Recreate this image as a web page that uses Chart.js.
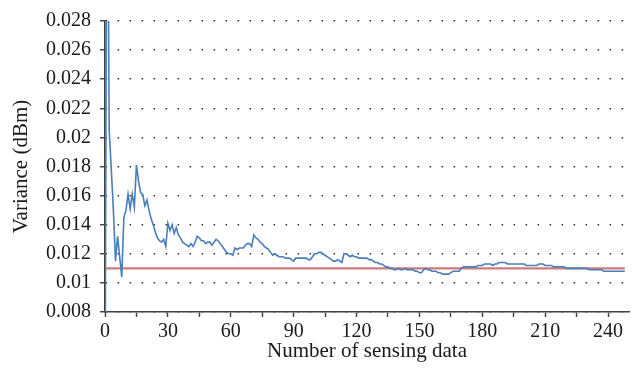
<!DOCTYPE html>
<html>
<head>
<meta charset="utf-8">
<script src="https://cdn.jsdelivr.net/npm/chart.js@4/dist/chart.umd.min.js"></script>
<style>
  html, body { margin: 0; padding: 0; background: #ffffff; }
  canvas { display: block; }
</style>
</head>
<body>
<canvas id="chart" width="641" height="377"></canvas>
<script>
// Running variance after each new sensing sample
const variance = [
  0.0, 0.045, 0.0205, 0.0178, 0.0150, 0.0115, 0.0132, 0.0118, 0.0104, 0.0145,
  0.0150, 0.0161, 0.0151, 0.0161, 0.0152, 0.0181, 0.0170, 0.0162, 0.0161, 0.0153,
  0.0157, 0.0150, 0.0144, 0.0140, 0.0135, 0.0131, 0.0129, 0.0128, 0.0130, 0.0125,
  0.0141, 0.0136, 0.0140, 0.0134, 0.0138, 0.0133, 0.0131, 0.0128, 0.0127, 0.0126,
  0.0125, 0.0127, 0.0125, 0.0128, 0.0132, 0.0131, 0.0129, 0.0129, 0.0127, 0.0128,
  0.0128, 0.0126, 0.0128, 0.0130, 0.0129, 0.0127, 0.0125, 0.0123, 0.0121, 0.0120,
  0.0120, 0.0119, 0.0124, 0.0123, 0.0124, 0.0124, 0.0124, 0.0126, 0.0127, 0.0127,
  0.0125, 0.0133, 0.0131, 0.0130, 0.0128, 0.0127, 0.0125, 0.0124, 0.0123, 0.0121,
  0.0119, 0.0120, 0.0119, 0.0118, 0.0118, 0.0118, 0.0117, 0.0117, 0.0117, 0.0116,
  0.0115, 0.0117, 0.0117, 0.0117, 0.0117, 0.0117, 0.0117, 0.0116, 0.0116, 0.0118,
  0.0120, 0.0120, 0.0121, 0.0121, 0.0120, 0.0119, 0.0118, 0.0117, 0.0116, 0.0115,
  0.0115, 0.0116, 0.0115, 0.0114, 0.0120, 0.0120, 0.0119, 0.0118, 0.0119, 0.0118,
  0.0118, 0.0117, 0.0117, 0.0117, 0.0117, 0.0117, 0.0116, 0.0116, 0.0115, 0.0114,
  0.0114, 0.0113, 0.0113, 0.0112, 0.0111, 0.0111, 0.0110, 0.0110, 0.0109, 0.0109,
  0.0110, 0.0109, 0.0109, 0.0110, 0.0109, 0.0109, 0.0109, 0.0109, 0.0108, 0.0108,
  0.0107, 0.0107, 0.0109, 0.0110, 0.0109, 0.0109, 0.0108, 0.0108, 0.0108, 0.0107,
  0.0107, 0.0106, 0.0106, 0.0106, 0.0106, 0.0107, 0.0108, 0.0108, 0.0108, 0.0108,
  0.0110, 0.0111, 0.0111, 0.0111, 0.0111, 0.0111, 0.0111, 0.0111, 0.0112, 0.0112,
  0.0112, 0.0113, 0.0113, 0.0113, 0.0113, 0.0112, 0.0113, 0.0113, 0.0114, 0.0114,
  0.0114, 0.0114, 0.0113, 0.0113, 0.0113, 0.0113, 0.0113, 0.0113, 0.0113, 0.0113,
  0.0113, 0.0112, 0.0112, 0.0112, 0.0112, 0.0112, 0.0112, 0.0113, 0.0113, 0.0113,
  0.0112, 0.0112, 0.0112, 0.0112, 0.0111, 0.0111, 0.0111, 0.0111, 0.0111, 0.0111,
  0.0110, 0.0110, 0.0110, 0.0110, 0.0110, 0.0110, 0.0110, 0.0110, 0.0110, 0.0110,
  0.0110, 0.0109, 0.0109, 0.0109, 0.0109, 0.0109, 0.0109, 0.0109, 0.0108, 0.0108,
  0.0108, 0.0108, 0.0108, 0.0108, 0.0108, 0.0108, 0.0108, 0.0108, 0.0108
];

// Reference level drawn across the whole run
const threshold = 0.011;

// Axis ticks
const xTickValues = [0, 15, 30, 45, 60, 75, 90, 105, 120, 135, 150, 165, 180, 195, 210, 225, 240];
const xTickLabels = ['0', '', '30', '', '60', '', '90', '', '120', '', '150', '', '180', '', '210', '', '240'];
const yTickValues = [0.008, 0.010, 0.012, 0.014, 0.016, 0.018, 0.020, 0.022, 0.024, 0.026, 0.028];
const yTickLabels = ['0.008', '0.01', '0.012', '0.014', '0.016', '0.018', '0.02', '0.022', '0.024', '0.026', '0.028'];

const FONT = "'Liberation Serif', 'Times New Roman', serif";
const AXIS_COLOR = '#3f3f3f';
const TEXT_COLOR = '#1a1a1a';

const variancePoints = variance.map((v, i) => ({ x: i, y: v }));
const thresholdPoints = [
  { x: 0, y: threshold },
  { x: variance.length - 1, y: threshold }
];

new Chart(document.getElementById('chart'), {
  type: 'line',
  data: {
    datasets: [
      {
        data: variancePoints,
        borderColor: '#4a7ebb',
        borderWidth: 1.6,
        pointRadius: 0,
        tension: 0,
        fill: false
      },
      {
        data: thresholdPoints,
        borderColor: 'rgba(200, 100, 98, 0.85)',
        borderWidth: 2.2,
        pointRadius: 0,
        tension: 0,
        fill: false
      }
    ]
  },
  options: {
    responsive: false,
    animation: false,
    events: [],
    layout: { padding: { left: 0, top: 18, right: 12, bottom: 0 } },
    plugins: {
      legend: { display: false },
      tooltip: { enabled: false }
    },
    scales: {
      x: {
        type: 'linear',
        min: 0,
        max: 250,
        afterBuildTicks: s => { s.ticks = xTickValues.map(v => ({ value: v })); },
        afterFit: s => { s.height = 65; },
        border: { display: true, color: AXIS_COLOR, width: 1.6 },
        grid: {
          drawOnChartArea: false,
          drawTicks: true,
          tickLength: 5,
          tickColor: AXIS_COLOR,
          tickWidth: 1.4
        },
        ticks: {
          autoSkip: false,
          maxRotation: 0,
          padding: 3,
          color: TEXT_COLOR,
          font: { family: FONT, size: 20 },
          callback: (v, i) => xTickLabels[i]
        },
        title: {
          display: true,
          text: 'Number of sensing data',
          color: TEXT_COLOR,
          font: { family: FONT, size: 21 },
          padding: { top: 0, bottom: 13 }
        }
      },
      y: {
        type: 'linear',
        min: 0.008,
        max: 0.028,
        afterBuildTicks: s => { s.ticks = yTickValues.map(v => ({ value: v })); },
        afterFit: s => { s.width = 105; },
        border: { display: true, color: AXIS_COLOR, width: 1.6, dash: [1.5, 10.5], dashOffset: 0 },
        grid: {
          drawOnChartArea: true,
          color: '#2a2a2a',
          lineWidth: 1.5,
          drawTicks: true,
          tickLength: 5,
          tickColor: AXIS_COLOR,
          tickWidth: 1.4,
          tickBorderDash: []
        },
        ticks: {
          autoSkip: false,
          padding: 9,
          color: TEXT_COLOR,
          font: { family: FONT, size: 20 },
          callback: (v, i) => yTickLabels[i]
        },
        title: {
          display: true,
          text: 'Variance (dBm)',
          color: TEXT_COLOR,
          font: { family: FONT, size: 21 },
          padding: { top: 9, bottom: 0 }
        }
      }
    }
  }
});
</script>
</body>
</html>
